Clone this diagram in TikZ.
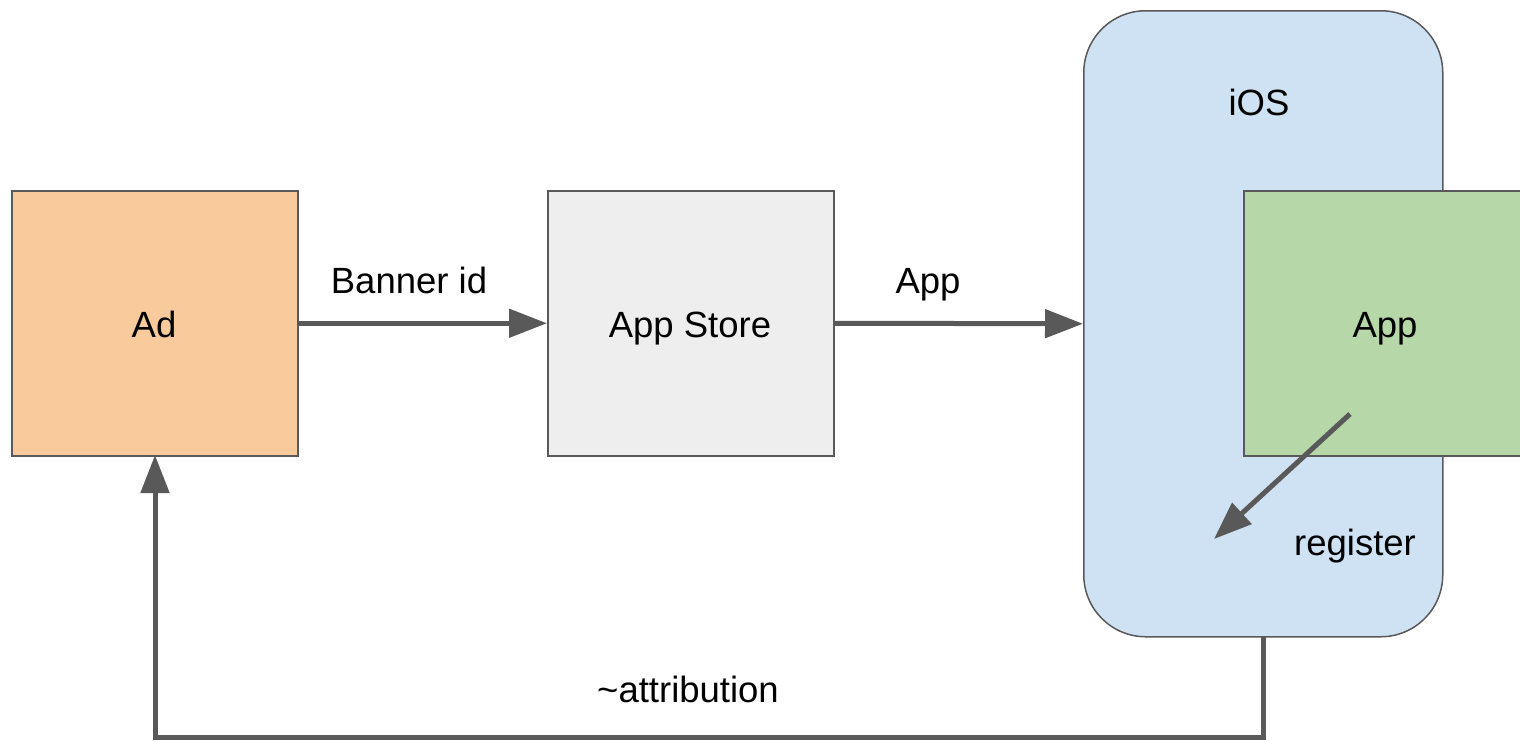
\documentclass[tikz,border=0pt]{standalone}
\usepackage{fontspec}
\setmainfont{Liberation Sans}
\usetikzlibrary{arrows.meta}
\definecolor{edge}{HTML}{595959}
\definecolor{adfill}{HTML}{F9CB9C}
\definecolor{storefill}{HTML}{EEEEEE}
\definecolor{iosfill}{HTML}{CFE2F3}
\definecolor{appfill}{HTML}{B6D7A8}
\begin{document}
\begin{tikzpicture}[x=1pt,y=-1pt,
  every node/.style={font=\fontsize{36.5}{44}\selectfont, text=black},
  box/.style={draw=edge, line width=1.5pt, minimum width=286pt, minimum height=265pt, inner sep=0pt},
  conn/.style={draw=edge, line width=5pt, -{Triangle[length=38pt,width=28pt]}},
  lbl/.style={inner sep=0pt, anchor=base}]
\useasboundingbox (0,0) rectangle (1520,740);
\node[box, fill=adfill, anchor=north west] (ad) at (11,190) {};
\node[lbl] at (154,337) {Ad};
\node[box, fill=storefill, anchor=north west] (store) at (547,190) {};
\node[lbl] at (690,337) {App Store};
\node[draw=edge, line width=1.5pt, fill=iosfill, rounded corners=62pt, minimum width=359pt, minimum height=626pt, anchor=north west, inner sep=0pt] (ios) at (1083,10) {};
\node[lbl] (iostxt) at (1259,115) {iOS};
\node[box, fill=appfill, anchor=north west, minimum width=290pt] (app) at (1243,190) {};
\node[lbl] at (1385,337) {App};
\node[lbl] (reg) at (1355,555) {register};
\coordinate (regstart) at (1350,414);
\coordinate (regend) at (1214,539);
\coordinate (iosbot) at (1263,636);
\coordinate (corner1) at (1263,737);
\coordinate (corner2) at (155,737);
\coordinate (adbot) at (155,455);
\draw[conn] (ad.east) -- (store.west);
\node[lbl] (bannerlbl) at (409,293) {Banner id};
\draw[conn] (store.east) -- (ios.west);
\node[lbl] (applbl) at (928,293) {App};
\draw[conn] (regstart) -- (regend);
\draw[conn] (iosbot) -- (corner1) -- (corner2) -- (adbot);
\node[lbl] (attr) at (688,702) {\textasciitilde attribution};
\end{tikzpicture}
\end{document}
